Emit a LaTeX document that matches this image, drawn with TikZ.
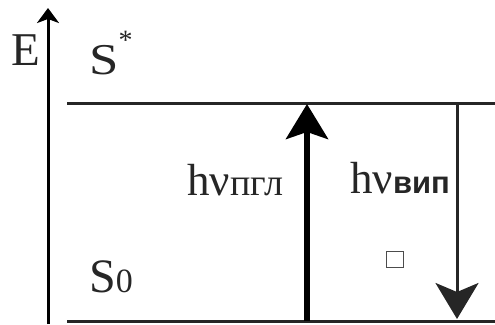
\documentclass[tikz,border=0pt]{standalone}
\usepackage{fontspec}
\setmainfont{Liberation Serif}
\newfontfamily\sansf{Liberation Sans}
\usetikzlibrary{arrows.meta}
\tikzset{
  level/.style={line width=3pt, draw=black!85},
  lbl/.style={inner sep=0pt, anchor=base west, text=black!85},
}
\begin{document}
\begin{tikzpicture}[x=1pt,y=-1pt]
\useasboundingbox (0,0) rectangle (495,324);
% axis
\coordinate (ab) at (48,324);
\coordinate (at) at (48,8);
\draw[line width=3pt, -{Stealth[length=15pt,width=22pt,inset=4pt]}] (ab) -- (at);
\node[lbl, font=\fontsize{47}{47}\selectfont] (E) at (11,65) {E};
% levels
\coordinate (t1) at (67,103);
\coordinate (t2) at (495,103);
\coordinate (b1) at (67,321);
\coordinate (b2) at (495,321);
\draw[level] (t1) -- (t2);
\draw[level] (b1) -- (b2);
\node[lbl, font=\fontsize{44}{44}\selectfont] (Sx) at (89,74) {\scalebox{1.2}[1]{S}\raisebox{0.55em}{\fontsize{28}{28}\selectfont *}};
\node[lbl, font=\fontsize{48}{48}\selectfont] (S0) at (89,292) {S{\fontsize{34}{34}\selectfont 0}};
% arrows
\coordinate (ua) at (307,321);
\coordinate (ub) at (307,104);
\draw[line width=6pt, -{Stealth[length=35pt,width=42pt,inset=7pt]}] (ua) -- (ub);
\coordinate (da) at (457,103);
\coordinate (db) at (457,319);
\draw[line width=3pt, draw=black!85, -{Stealth[length=36pt,width=43pt,inset=9pt]}] (da) -- (db);
\node[lbl, font=\fontsize{45}{45}\selectfont] (hp) at (187,195) {hν{\fontsize{38}{38}\selectfont пгл}};
\node[lbl, font=\fontsize{45}{45}\selectfont] (hv) at (350,193) {hν{\sansf\bfseries\fontsize{31}{31}\selectfont вип}};
% small square
\node[draw=black!70, line width=0.8pt, minimum width=17pt, minimum height=16pt, inner sep=0pt] (sq) at (395,259) {};
\end{tikzpicture}
\end{document}
